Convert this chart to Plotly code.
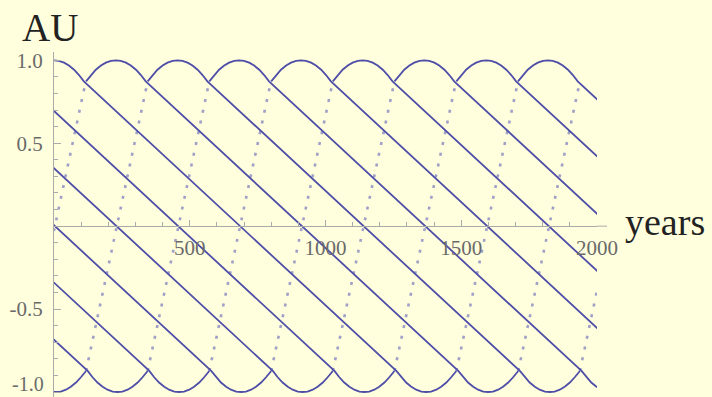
import plotly.graph_objects as go

# ---- data ----
# years at which a curve reaches its top (1.0 AU); negative years are curves already running at year 0
top_years = [-1592, -1364, -1137, -910, -682, -455, -228,
             0, 228, 455, 682, 910, 1137, 1364, 1592, 1819]

# one cycle of a curve, as offsets (years) from its top, and the AU values there
# solid part: top arc, long descent, bottom arc
solid_dx = [-110, -92, -74, -55, -37, -18, 0, 18, 37, 55, 74, 92, 110,
            1261, 1279, 1297, 1316, 1334, 1353, 1371, 1389, 1408, 1426, 1445, 1463, 1482]
solid_au = [0.873, 0.911, 0.943, 0.968, 0.986, 0.997, 1.0, 0.997, 0.986, 0.968, 0.943, 0.911, 0.873,
            -0.873, -0.911, -0.943, -0.968, -0.986, -0.997, -1.0, -0.997, -0.986, -0.968, -0.943, -0.911, -0.873]
# sparse (dotted) part: the steep climb back to the next top
dotted_dx = [1482, 1709]
dotted_au = [-0.873, 0.873]

x_tick_vals = [500, 1000, 1500, 2000]
x_tick_text = ["500", "1000", "1500", "2000"]
y_tick_vals = [-1.0, -0.5, 0.5, 1.0]
y_tick_text = ["", "-0.5", "0.5", "1.0"]   # the -1.0 label is placed as an annotation (nudged up)
y_low_label = "-1.0"

x_label = "years"
y_label = "AU"

# ---- build traces ----
sx, sy, dx, dy = [], [], [], []
for t in top_years:
    sx += [t + d for d in solid_dx] + [None]
    sy += solid_au + [None]
    dx += [t + d for d in dotted_dx] + [None]
    dy += dotted_au + [None]

line_col = "rgb(78,78,168)"
fig = go.Figure()
fig.add_trace(go.Scatter(x=dx, y=dy, mode="lines",
                         line=dict(color="rgba(95,95,185,0.6)", width=2.6, dash="3px,8px"),
                         hoverinfo="skip", showlegend=False))
fig.add_trace(go.Scatter(x=sx, y=sy, mode="lines",
                         line=dict(color=line_col, width=1.8),
                         hoverinfo="skip", showlegend=False))

y_min, y_max = -1.03, 1.05
axis_pos = (0 - y_min) / (y_max - y_min)
axis_col = "#aaaaaa"
tick_font = dict(family="Liberation Serif", size=21, color="#6a6a6a")

fig.update_layout(
    width=712, height=397,
    margin=dict(l=54, r=115, t=52, b=0, autoexpand=False),
    paper_bgcolor="#ffffdd", plot_bgcolor="#ffffdd",
    xaxis=dict(range=[0, 2000], anchor="free", position=axis_pos, automargin=False,
               showgrid=False, zeroline=False, showline=True,
               linecolor=axis_col, linewidth=1,
               tickmode="array", tickvals=x_tick_vals, ticktext=x_tick_text,
               ticks="inside", ticklen=6, tickcolor=axis_col, tickwidth=1,
               tickfont=tick_font, ticklabelstandoff=3, ticklabeloverflow="allow",
               minor=dict(tickmode="linear", tick0=0, dtick=100, ticks="inside",
                          ticklen=4, tickcolor=axis_col, tickwidth=1, showgrid=False)),
    yaxis=dict(range=[y_min, y_max], automargin=False,
               showgrid=False, zeroline=False, showline=True,
               linecolor=axis_col, linewidth=1,
               tickmode="array", tickvals=y_tick_vals, ticktext=y_tick_text,
               ticks="inside", ticklen=7, tickcolor=axis_col, tickwidth=1,
               tickfont=tick_font, ticklabelstandoff=6, ticklabeloverflow="allow",
               minor=dict(tickmode="linear", tick0=0, dtick=0.1, ticks="inside",
                          ticklen=4, tickcolor=axis_col, tickwidth=1, showgrid=False)),
    shapes=[dict(type="line", xref="paper", yref="paper",
                 x0=1, x1=1.0185, y0=axis_pos, y1=axis_pos,
                 line=dict(color=axis_col, width=1))],
    annotations=[
        dict(text=y_label, xref="paper", yref="paper", x=-0.063, y=1.072,
             xanchor="left", yanchor="middle", showarrow=False,
             font=dict(family="Liberation Serif", size=39, color="#222222")),
        dict(text=x_label, xref="paper", yref="paper", x=1.048, y=0.507,
             xanchor="left", yanchor="middle", showarrow=False,
             font=dict(family="Liberation Serif", size=38, color="#222222")),
        dict(text=y_low_label, xref="paper", yref="y", x=-0.014, y=-1.0,
             xanchor="right", yanchor="bottom", yshift=-5, showarrow=False,
             font=dict(family="Liberation Serif", size=20, color="#6a6a6a")),
    ],
)

fig.write_html("out.html", config={"displayModeBar": False},
               post_script="document.body.style.margin='0';document.body.style.background='#ffffdd';")
